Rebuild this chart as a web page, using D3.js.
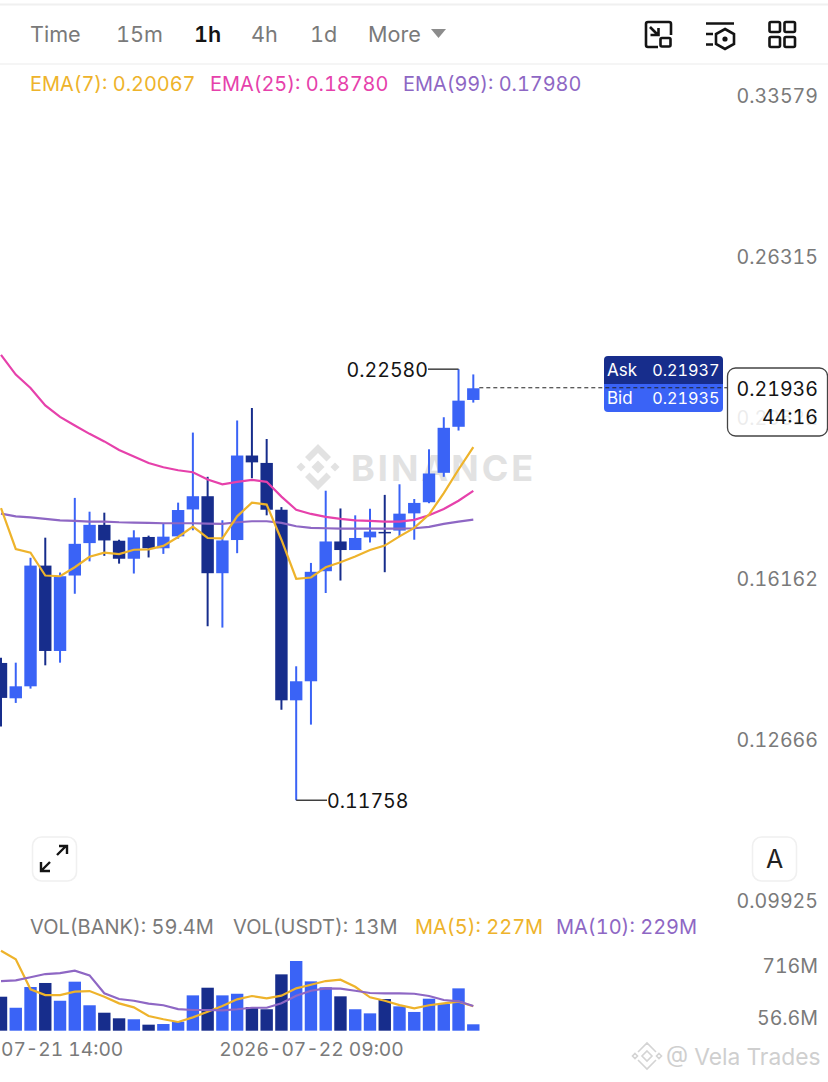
<!DOCTYPE html>
<html><head><meta charset="utf-8">
<script src="https://cdnjs.cloudflare.com/ajax/libs/d3/7.8.5/d3.min.js"></script>
<style>html,body{margin:0;padding:0;background:#fff}svg{display:block}text{font-family:Inter,"Noto Sans",sans-serif;font-variant-numeric:tabular-nums;font-feature-settings:"tnum" 1}</style>
</head><body><svg id="c" width="828" height="1082"></svg>
<script>
const periods=["Time","15m","1h","4h","1d","More"];
const opens=[.14474,.13720,.13971,.16772,.14739,.16522,.17353,.17839,.17415,.16947,.17515,.17218,.17531,.18260,.18629,.16580,.17434,.19813,.19592,.18252,.13678,.14078,.16630,.17396,.17172,.17504,.17650,.17685,.18152,.18460,.19301,.20694,.21551];
const closes=[.13728,.13971,.16772,.14739,.16504,.17334,.17839,.17423,.16947,.17504,.17218,.17523,.18244,.18629,.16580,.17423,.19813,.19609,.18252,.13678,.14078,.16615,.17396,.17172,.17488,.17658,.17631,.18144,.18441,.19281,.20662,.21529,.21936];
const highs=[.14588,.14480,.16972,.17496,.16597,.18582,.18198,.18171,.17442,.17693,.17550,.17874,.18449,.20513,.19185,.17963,.20892,.21290,.20315,.18325,.14401,.16840,.18785,.18287,.18098,.18279,.18667,.18969,.18551,.20001,.20995,.22580,.22401];
const lows=[.13144,.13624,.13922,.14422,.14480,.16072,.16880,.17022,.16822,.16572,.16980,.17072,.17469,.17693,.15301,.15270,.17090,.19144,.18098,.13484,.11758,.13184,.16090,.16397,.17172,.17369,.16605,.17531,.17442,.18433,.19185,.20576,.21466];
const ema7=[.18298,.17199,.17105,.16522,.16504,.16730,.16997,.17105,.17065,.17180,.17191,.17280,.17515,.17793,.17488,.17477,.18071,.18449,.18395,.17442,.16442,.16472,.16730,.16855,.17005,.17172,.17288,.17531,.17758,.18117,.18719,.19397,.20067];
const ema25=[.23074,.22396,.21946,.21372,.21008,.20735,.20474,.20241,.19979,.19784,.19592,.19464,.19377,.19318,.19106,.18969,.19039,.19097,.19039,.18618,.18252,.18136,.18055,.18001,.17963,.17947,.17928,.17928,.17974,.18098,.18271,.18503,.18780];
const ema99=[.18144,.18071,.18044,.18001,.17963,.17947,.17928,.17928,.17909,.17901,.17893,.17882,.17882,.17882,.17874,.17866,.17909,.17936,.17936,.17893,.17802,.17758,.17748,.17739,.17739,.17739,.17739,.17739,.17748,.17785,.17866,.17928,.17980];
const volumes=[315.5,213,405.5,443,278,455,236,167,115,106,56,62,84,328,399,328,343,220,199,523,647,458,403,319,199,161,294,226,174,297,248,393,59.4];
const ma5=[742,663,384,331,331,362,368,316,254,217,136,106,81,124,176,229,291,322,301,325,393,427,461,473,408,310,278,238,208,236,254,269,227];
const ma10=[461,468,496,526,535,557,514,347,294,278,251,236,201,192,192,189,199,213,213,254,325,371,393,390,371,350,347,347,343,322,285,273,229];
const priceTicks=[.33579,.26315,.20622,.16162,.12666,.09925];
const volumeLabels=["716M","56.6M"];
const timeTicks=["2026-07-21 14:00","2026-07-22 09:00"];
const emaLegend=["EMA(7): 0.20067","EMA(25): 0.18780","EMA(99): 0.17980"];
const volLegend=["VOL(BANK): 59.4M","VOL(USDT): 13M","MA(5): 227M","MA(10): 229M"];

const UP="#3a63f6",DOWN="#172d8c",GOLD="#eeb32b",PINK="#e641ab",PURP="#8e67c4",GREY="#7a7a7a",INK="#141414";
const NUM=19.6;
const svg=d3.select("#c");
const parse=d3.utcParse("%Y-%m-%d %H:%M"),fmt=d3.utcFormat("%Y-%m-%d %H:%M");
const t0=parse("2026-07-21 12:00");
const times=opens.map((_,i)=>d3.utcHour.offset(t0,i));
const x=d3.scaleUtc().domain([times[0],times[times.length-1]]).range([1,473.3]);
const y=d3.scaleLog().domain([.33579,.09925]).range([107,912.2]);
const yv=d3.scaleLinear().domain([0,647]).range([1030.7,961]);
const X=i=>x(times[i]);

// Header
svg.append("line").attr("x1",0).attr("x2",828).attr("y1",4.5).attr("y2",4.5).attr("stroke","#f0f0f0").attr("stroke-width",2);
svg.append("line").attr("x1",0).attr("x2",828).attr("y1",64).attr("y2",64).attr("stroke","#f2f2f2").attr("stroke-width",1.5);
const hx=[30,116,194,251,310,368];
svg.selectAll("text.p").data(periods).join("text").attr("class","p")
 .attr("x",(d,i)=>hx[i]).attr("y",42).attr("font-size",21.6)
 .attr("fill",d=>d==="1h"?INK:GREY).attr("font-weight",d=>d==="1h"?600:400).text(d=>d);
svg.append("path").attr("d","M431 29h15l-7.5 9z").attr("fill","#8c8c8c");
// Header icons
const ic=svg.append("g").attr("fill","none").attr("stroke",INK).attr("stroke-width",2.6);
ic.append("path").attr("d","M658 47H648a2 2 0 0 1-2-2V24a2 2 0 0 1 2-2h21a2 2 0 0 1 2 2v11");
ic.append("rect").attr("x",660.5).attr("y",38).attr("width",10).attr("height",8.5).attr("rx",1.5);
ic.append("path").attr("d","M650 27l8 8M650.5 35h8v-7");
ic.append("path").attr("d","M706 23.5h28M706 34h7M706 44.5h7");
ic.append("path").attr("d","M725 29l9 5v10l-9 5-9-5V34z");
svg.append("circle").attr("cx",725).attr("cy",39).attr("r",2.6).attr("fill",INK);
[[769.5,22],[784.5,22],[769.5,37],[784.5,37]].forEach(p=>ic.append("rect").attr("x",p[0]).attr("y",p[1]).attr("width",10.5).attr("height",10).attr("rx",1.5));

// Watermark
const wm=svg.append("g").attr("fill","#e2e2e2");
const dia=(cx,cy,r)=>`M${cx} ${cy-r}L${cx+r} ${cy}L${cx} ${cy+r}L${cx-r} ${cy}Z`;
wm.append("path").attr("d",dia(318,467,6.5)+dia(301,467,4.5)+dia(335,467,4.5));
wm.append("path").attr("d","M318 444L331 457L326.5 461.5L318 453L309.5 461.5L305 457Z");
wm.append("path").attr("d","M318 490L331 477L326.5 472.5L318 481L309.5 472.5L305 477Z");
wm.append("text").attr("x",351).attr("y",481).attr("font-size",36).attr("font-weight",700).attr("letter-spacing",3).attr("fill","#e2e2e2").text("BINANCE");

// Volume bars
svg.append("g").selectAll("rect").data(volumes).join("rect")
 .attr("x",(d,i)=>X(i)-6.2).attr("width",12.4)
 .attr("y",d=>yv(d)).attr("height",d=>yv(0)-yv(d))
 .attr("fill",(d,i)=>closes[i]>=opens[i]?UP:DOWN);
const lineV=d3.line().x((d,i)=>X(i)).y(d=>yv(d));
svg.append("path").attr("d",lineV(ma5)).attr("fill","none").attr("stroke",GOLD).attr("stroke-width",2.2);
svg.append("path").attr("d",lineV(ma10)).attr("fill","none").attr("stroke",PURP).attr("stroke-width",2.2);

// Candles
const cg=svg.append("g");
cg.selectAll("line").data(opens).join("line")
 .attr("x1",(d,i)=>X(i)).attr("x2",(d,i)=>X(i))
 .attr("y1",(d,i)=>y(highs[i])).attr("y2",(d,i)=>y(lows[i]))
 .attr("stroke",(d,i)=>closes[i]>=opens[i]?UP:DOWN).attr("stroke-width",2);
cg.selectAll("rect").data(opens).join("rect")
 .attr("x",(d,i)=>X(i)-6.2).attr("width",12.4)
 .attr("y",(d,i)=>y(Math.max(opens[i],closes[i])))
 .attr("height",(d,i)=>Math.max(1.5,Math.abs(y(opens[i])-y(closes[i]))))
 .attr("fill",(d,i)=>closes[i]>=opens[i]?UP:DOWN);
// EMAs
const lineP=d3.line().x((d,i)=>X(i)).y(d=>y(d));
[[ema25,PINK],[ema99,PURP],[ema7,GOLD]].forEach(([a,c])=>svg.append("path").attr("d",lineP(a)).attr("fill","none").attr("stroke",c).attr("stroke-width",2.2));

// Legends
const ex=[30,210,403],ec=[GOLD,PINK,PURP];
svg.selectAll("text.e").data(emaLegend).join("text").attr("class","e").attr("x",(d,i)=>ex[i]).attr("y",90.5).attr("font-size",19.9).attr("fill",(d,i)=>ec[i]).text(d=>d);
const vx=[30,233,415,556],vc=[GREY,GREY,GOLD,PURP];
svg.selectAll("text.v").data(volLegend).join("text").attr("class","v").attr("x",(d,i)=>vx[i]).attr("y",934).attr("font-size",20).attr("fill",(d,i)=>vc[i]).text(d=>d);

// Price axis
const ya=d3.axisRight(y).tickValues(priceTicks).tickFormat(d3.format(".5f")).tickSize(0).tickPadding(0);
const yg=svg.append("g").attr("transform","translate(818,-11)").call(ya);
yg.select(".domain").remove();
yg.selectAll("text").attr("text-anchor","end").attr("font-size",NUM).attr("fill",GREY).style("font-family","Inter");

// Volume axis labels
const vy=[965,1017];
svg.selectAll("text.vl").data(volumeLabels).join("text").attr("class","vl").attr("x",818).attr("y",(d,i)=>vy[i]+7.5).attr("text-anchor","end").attr("font-size",NUM).attr("fill",GREY).text(d=>d);

// Time axis
const xa=d3.axisBottom(x).tickValues(timeTicks.map(parse)).tickFormat(fmt).tickSize(0).tickPadding(0);
const xg=svg.append("g").attr("transform","translate(0,1042)").call(xa);
xg.select(".domain").remove();
xg.selectAll("text").attr("font-size",19.2).attr("fill",GREY).style("font-family","Inter");

// High/low callouts
const iH=d3.maxIndex(highs),iL=d3.minIndex(lows);
svg.append("path").attr("d",`M428 ${y(highs[iH])}H${X(iH)}`).attr("stroke","#333").attr("stroke-width",1.4).attr("fill","none");
svg.append("path").attr("d",`M327 ${y(lows[iL])}H${X(iL)}`).attr("stroke","#333").attr("stroke-width",1.4).attr("fill","none");
svg.append("text").attr("x",428).attr("y",y(highs[iH])+7.5).attr("text-anchor","end").attr("font-size",NUM).attr("fill",INK).text(d3.format(".5f")(highs[iH]));
svg.append("text").attr("x",327).attr("y",y(lows[iL])+7.5).attr("font-size",NUM).attr("fill",INK).text(d3.format(".5f")(lows[iL]));

// Ask / bid
const last=closes[closes.length-1];
svg.append("path").attr("d","M604 384V360a4 4 0 0 1 4-4H719a4 4 0 0 1 4 4V384Z").attr("fill",DOWN);
svg.append("path").attr("d","M604 384V408a4 4 0 0 0 4 4H719a4 4 0 0 0 4-4V384Z").attr("fill",UP);
[["Ask","0.21937",376],["Bid","0.21935",404]].forEach(r=>{
 svg.append("text").attr("x",607).attr("y",r[2]).attr("font-size",17).attr("fill","#fff").text(r[0]);
 svg.append("text").attr("x",719.5).attr("y",r[2]).attr("text-anchor","end").attr("font-size",16.2).attr("fill","#fff").text(r[1]);
});
svg.append("line").attr("x1",X(32)+6).attr("x2",727).attr("y1",y(last)-0.5).attr("y2",y(last)-0.5).attr("stroke","#222").attr("stroke-width",1).attr("stroke-dasharray","4 3");
// Current price box
svg.append("rect").attr("x",727.5).attr("y",368).attr("width",100).attr("height",68).attr("rx",8).attr("fill","rgba(255,255,255,.86)").attr("stroke","#444").attr("stroke-width",1.3);
svg.append("text").attr("x",818).attr("y",396).attr("text-anchor","end").attr("font-size",NUM).attr("fill",INK).text(d3.format(".5f")(last));
svg.append("text").attr("x",818).attr("y",424).attr("text-anchor","end").attr("font-size",NUM).attr("fill",INK).text("44:16");

// Floating buttons
[32.5,752.5].forEach(bx=>{
 svg.append("rect").attr("x",bx).attr("y",837).attr("width",44).attr("height",44).attr("rx",9).attr("fill","#fff").attr("stroke","#f0f0f0").attr("stroke-width",1.6);
});
svg.append("path").attr("d","M57 855L66 846M59 846h8v8M50 862L42 870M41 862v9h9").attr("fill","none").attr("stroke",INK).attr("stroke-width",2.4);
svg.append("text").attr("x",774.5).attr("y",868).attr("text-anchor","middle").attr("font-size",25).attr("fill","#222").text("A");

// Bottom watermark
const bw=svg.append("g").attr("fill","none").attr("stroke","#d4d4d4").attr("stroke-width",1.6);
bw.append("path").attr("d",dia(647,1056,5)+dia(635,1056,2.5)+dia(659,1056,2.5)+"M638 1052L647 1043L656 1052M638 1060L647 1069L656 1060");
svg.append("text").attr("x",666).attr("y",1065).attr("font-size",22.8).attr("fill","#cfcfcf").text("@ Vela Trades");
</script></body></html>
